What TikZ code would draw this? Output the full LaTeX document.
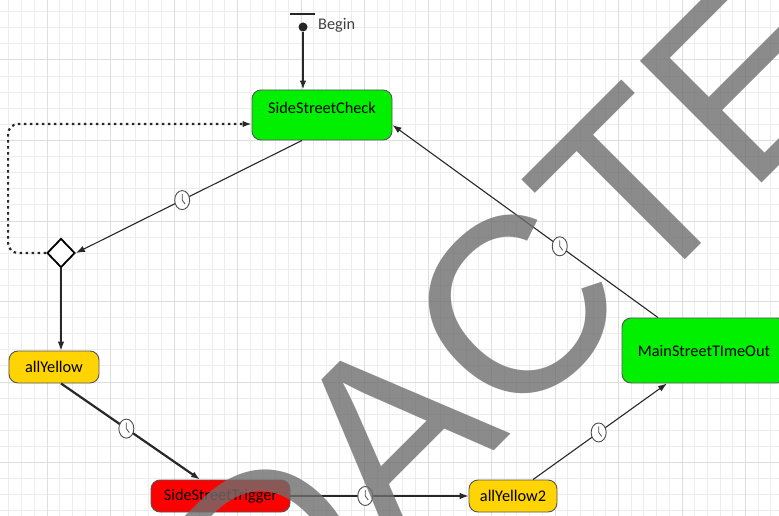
\documentclass[tikz,border=0pt]{standalone}
\usepackage{fontspec}
\setmainfont{Carlito}
\newfontfamily\stampfont[Kerning=Off]{Liberation Sans}
\usetikzlibrary{arrows.meta,shapes.geometric}
\definecolor{stategreen}{RGB}{0,240,0}
\definecolor{stateyellow}{RGB}{255,212,0}
\definecolor{statered}{RGB}{255,0,0}
\definecolor{stateborder}{RGB}{85,85,85}
\definecolor{linegray}{RGB}{40,40,40}
\begin{document}
\begin{tikzpicture}[
    x=1pt, y=-1pt,
    state/.style={rectangle, draw=stateborder, line width=0.9pt, rounded corners=9pt, inner sep=0pt, font=\fontsize{16.3}{18}\selectfont},
    gridminor/.style={draw=black!7, line width=1pt},
    gridmajor/.style={draw=black!13, line width=1pt},
    trans/.style={->, >={Latex[length=9pt,width=6.5pt]}, draw=linegray, line width=1.1pt},
    timer/.style={ellipse, draw=black!70, fill=white, line width=0.9pt, minimum width=15pt, minimum height=19pt, inner sep=0pt,
        path picture={\draw[-, black!70, line width=0.8pt] ([yshift=6pt]path picture bounding box.center) -- (path picture bounding box.center) -- ++(3,4);}}
]
    \useasboundingbox (0,0) rectangle (779,516);
    \clip (0,0) rectangle (779,516);
    \fill[white] (0,0) rectangle (779,516);

    % Grid
    \foreach \i in {0,...,61} \draw[gridminor] ({8.9+12.7*\i},0) -- ({8.9+12.7*\i},516);
    \foreach \j in {0,...,31} \draw[gridminor] (0,{11.7+16.1*\j}) -- (779,{11.7+16.1*\j});
    \foreach \i in {0,...,11} \draw[gridmajor] ({47+63.5*\i},0) -- ({47+63.5*\i},516);
    \foreach \j in {0,...,5} \draw[gridmajor] (0,{60+80.5*\j}) -- (779,{60+80.5*\j});

    % Initial state
    \node[fill=black!85, minimum width=25pt, minimum height=2.2pt, inner sep=0pt] (initbar) at (302.5,14) {};
    \node[circle, fill=black!85, minimum size=9pt, inner sep=0pt] (initdot) at (303,27) {};
    \node[anchor=west, inner sep=0pt, text=black!75, font=\fontsize{16.3}{18}\selectfont] (beginlabel) at (318,25) {Begin};

    % States
    \node[state, fill=stategreen, minimum width=140pt, minimum height=50pt, text depth=14pt] (check) at (322,115) {SideStreetCheck};
    \node[diamond, draw=black, line width=1.8pt, fill=white, minimum width=28pt, minimum height=29pt, inner sep=0pt] (choice) at (61,253) {};
    \node[state, fill=stateyellow, minimum width=90pt, minimum height=32pt] (yellow) at (54,367) {allYellow};
    \node[state, fill=statered, minimum width=139pt, minimum height=32pt] (trigger) at (220.5,496) {SideStreetTrigger};
    \node[state, fill=stateyellow, minimum width=88pt, minimum height=32pt] (yellowtwo) at (513,496) {allYellow2};
    \node[state, fill=stategreen, minimum width=164pt, minimum height=65pt] (timeout) at (704,350.5) {MainStreetTImeOut};

    % Transitions
    \draw[trans, line width=1.8pt] (initdot) -- (initdot |- check.north);
    \draw[trans] ([xshift=-20pt]check.south) -- node[pos=0.53, timer] (clockone) {} (choice.east);
    \draw[trans, line width=2.2pt, dash pattern=on 2.5pt off 3.5pt, rounded corners=10pt] (choice.west) -- ++(-38,0) |- ([yshift=-9pt]check.west);
    \draw[trans] (choice.south) -- (choice |- yellow.north);
    \draw[trans, line width=2.2pt] (yellow.south -| choice) -- node[pos=0.47, timer] (clocktwo) {} ([xshift=-20.5pt]trigger.north);
    \draw[trans] (trigger.east) -- node[pos=0.42, timer] (clockthree) {} (yellowtwo.west);
    \draw[trans] ([xshift=20pt]yellowtwo.north) -- node[pos=0.49, timer] (clockfour) {} ([xshift=-37pt]timeout.south);
    \draw[trans] ([xshift=-46pt]timeout.north) -- node[pos=0.37, timer] (clockfive) {} ([yshift=-10pt]check.east);

    % Watermark
    \node[font=\stampfont\fontsize{250}{250}\selectfont, text=black!57, opacity=0.8, rotate=45, anchor=base west, inner sep=0pt] (stamp) at (20.4,924.6) {REDACTED};
\end{tikzpicture}
\end{document}
